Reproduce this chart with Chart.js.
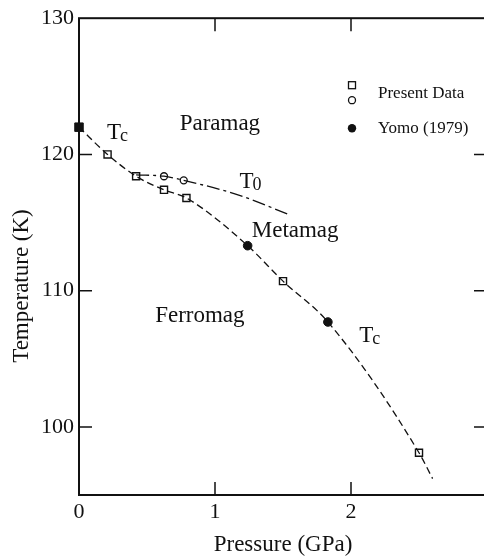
<!DOCTYPE html>
<html>
<head>
<meta charset="utf-8">
<script src="https://cdn.jsdelivr.net/npm/chart.js@4.4.0/dist/chart.umd.min.js"></script>
<style>
html, body { margin: 0; padding: 0; background: #fff; overflow: hidden; }
#wrap { width: 494px; height: 557px; }
</style>
</head>
<body>
<div id="wrap"><canvas id="chart" width="494" height="557"></canvas></div>
<script>
// values (pressure in GPa, temperature in K)
const ambientP = [0];
const ambientT = [122.0];
const presentTcP = [0.21, 0.42, 0.625, 0.79, 1.50, 2.50];
const presentTcT = [120.0, 118.4, 117.4, 116.8, 110.7, 98.1];
const presentT0P = [0.625, 0.77];
const presentT0T = [118.4, 118.1];
const yomoP = [1.24, 1.83];
const yomoT = [113.3, 107.7];
// phase boundaries drawn through the points
const tcLineP = [0, 0.21, 0.42, 0.625, 0.79, 1.24, 1.50, 1.83, 2.50, 2.60];
const tcLineT = [122.0, 120.0, 118.4, 117.4, 116.8, 113.3, 110.7, 107.7, 98.1, 96.2];
const t0LineP = [0.42, 0.625, 0.77, 1.18, 1.54];
const t0LineT = [118.5, 118.4, 118.1, 117.0, 115.6];
const xTicks = [0, 1, 2];
const yTicks = [100, 110, 120, 130];
// region labels: [text, subscript, P, T]
const labels = [
    ['T', 'c', 0.205, 121.1],
    ['Paramag', '', 0.74, 121.8],
    ['T', '0', 1.18, 117.55],
    ['Metamag', '', 1.27, 113.95],
    ['Ferromag', '', 0.56, 107.7],
    ['T', 'c', 2.06, 106.25]
];

const FONT = "'Liberation Serif', 'Times New Roman', serif";
const INK = '#111';

function pts(xs, ys) {
    return xs.map((x, i) => ({ x: x, y: ys[i] }));
}

// box, inward ticks, y title, text labels and legend
const framePlugin = {
    id: 'frame',
    afterDraw(chart) {
        const ctx = chart.ctx;
        const a = chart.chartArea;
        const xs = chart.scales.x;
        const ys = chart.scales.y;
        ctx.save();
        ctx.strokeStyle = INK;
        ctx.lineWidth = 2;
        ctx.strokeRect(a.left, a.top, a.right - a.left, a.bottom - a.top);
        ctx.lineWidth = 1.5;
        const len = 13;
        ctx.beginPath();
        xTicks.forEach(v => {
            const px = xs.getPixelForValue(v);
            if (v === xs.min) return;
            ctx.moveTo(px, a.bottom); ctx.lineTo(px, a.bottom - len);
            ctx.moveTo(px, a.top); ctx.lineTo(px, a.top + len);
        });
        yTicks.forEach(v => {
            const py = ys.getPixelForValue(v);
            if (v === ys.max) return;
            ctx.moveTo(a.left, py); ctx.lineTo(a.left + len, py);
            ctx.moveTo(a.right, py); ctx.lineTo(a.right - len, py);
        });
        ctx.stroke();

        ctx.fillStyle = INK;

        // y axis title, rotated
        ctx.save();
        ctx.translate(22, 286);
        ctx.rotate(-Math.PI / 2);
        ctx.font = '23px ' + FONT;
        ctx.textAlign = 'center';
        ctx.textBaseline = 'middle';
        ctx.fillText('Temperature (K)', 0, 0);
        ctx.restore();

        // region labels
        ctx.textBaseline = 'alphabetic';
        ctx.textAlign = 'left';
        labels.forEach(l => {
            const px = xs.getPixelForValue(l[2]);
            const py = ys.getPixelForValue(l[3]);
            ctx.font = '23px ' + FONT;
            ctx.fillText(l[0], px, py);
            if (l[1]) {
                const w = ctx.measureText(l[0]).width;
                ctx.font = '18px ' + FONT;
                ctx.fillText(l[1], px + w - 1, py + 2);
            }
        });

        // legend
        const lx = a.left + 273;
        ctx.lineWidth = 1.3;
        ctx.strokeRect(lx - 3.5, a.top + 63.5, 7, 7);
        ctx.beginPath();
        ctx.arc(lx, a.top + 82, 3.5, 0, Math.PI * 2);
        ctx.stroke();
        ctx.beginPath();
        ctx.arc(lx, a.top + 110, 4.2, 0, Math.PI * 2);
        ctx.fill();
        ctx.font = '17px ' + FONT;
        ctx.textBaseline = 'middle';
        ctx.fillText('Present Data', lx + 26, a.top + 75);
        ctx.fillText('Yomo (1979)', lx + 26, a.top + 110);
        ctx.restore();
    }
};

new Chart(document.getElementById('chart'), {
    type: 'scatter',
    data: {
        datasets: [
            {
                label: 'Tc line',
                data: pts(tcLineP, tcLineT),
                showLine: true,
                pointRadius: 0,
                borderColor: INK,
                borderWidth: 1.3,
                borderDash: [7, 4],
                cubicInterpolationMode: 'monotone',
                clip: false
            },
            {
                label: 'T0 line',
                data: pts(t0LineP, t0LineT),
                showLine: true,
                pointRadius: 0,
                borderColor: INK,
                borderWidth: 1.3,
                borderDash: [13, 4, 3, 4],
                cubicInterpolationMode: 'monotone',
                clip: false
            },
            {
                label: 'Ambient',
                data: pts(ambientP, ambientT),
                pointStyle: 'rect',
                pointRadius: 6,
                backgroundColor: INK,
                borderColor: INK,
                borderWidth: 1,
                clip: false
            },
            {
                label: 'Present Tc',
                data: pts(presentTcP, presentTcT),
                pointStyle: 'rect',
                pointRadius: 5,
                backgroundColor: '#fff',
                borderColor: INK,
                borderWidth: 1.4,
                clip: false
            },
            {
                label: 'Present T0',
                data: pts(presentT0P, presentT0T),
                pointStyle: 'circle',
                pointRadius: 3.5,
                backgroundColor: '#fff',
                borderColor: INK,
                borderWidth: 1.3,
                clip: false
            },
            {
                label: 'Yomo (1979)',
                data: pts(yomoP, yomoT),
                pointStyle: 'circle',
                pointRadius: 4.3,
                backgroundColor: INK,
                borderColor: INK,
                borderWidth: 1,
                clip: false
            }
        ]
    },
    options: {
        responsive: false,
        animation: false,
        layout: { padding: { top: 16, right: 3, left: 0, bottom: 0 } },
        plugins: {
            legend: { display: false },
            tooltip: { enabled: false }
        },
        scales: {
            x: {
                type: 'linear',
                min: 0,
                max: 3,
                afterFit(scale) { scale.height = 62; },
                afterBuildTicks(scale) { scale.ticks = xTicks.map(v => ({ value: v })); },
                grid: { display: false, drawTicks: false, tickLength: 0 },
                border: { display: false },
                ticks: { color: INK, padding: 4, font: { family: FONT, size: 22 } },
                title: {
                    display: true,
                    text: 'Pressure (GPa)',
                    color: INK,
                    padding: { top: 0, bottom: -2 },
                    font: { family: FONT, size: 23 }
                }
            },
            y: {
                type: 'linear',
                min: 95,
                max: 130,
                afterFit(scale) { scale.width = 79; },
                afterBuildTicks(scale) { scale.ticks = yTicks.map(v => ({ value: v })); },
                grid: { display: false, drawTicks: false, tickLength: 0 },
                border: { display: false },
                ticks: { color: INK, padding: 5, font: { family: FONT, size: 22 } },
                title: { display: false }
            }
        }
    },
    plugins: [framePlugin]
});
</script>
</body>
</html>
